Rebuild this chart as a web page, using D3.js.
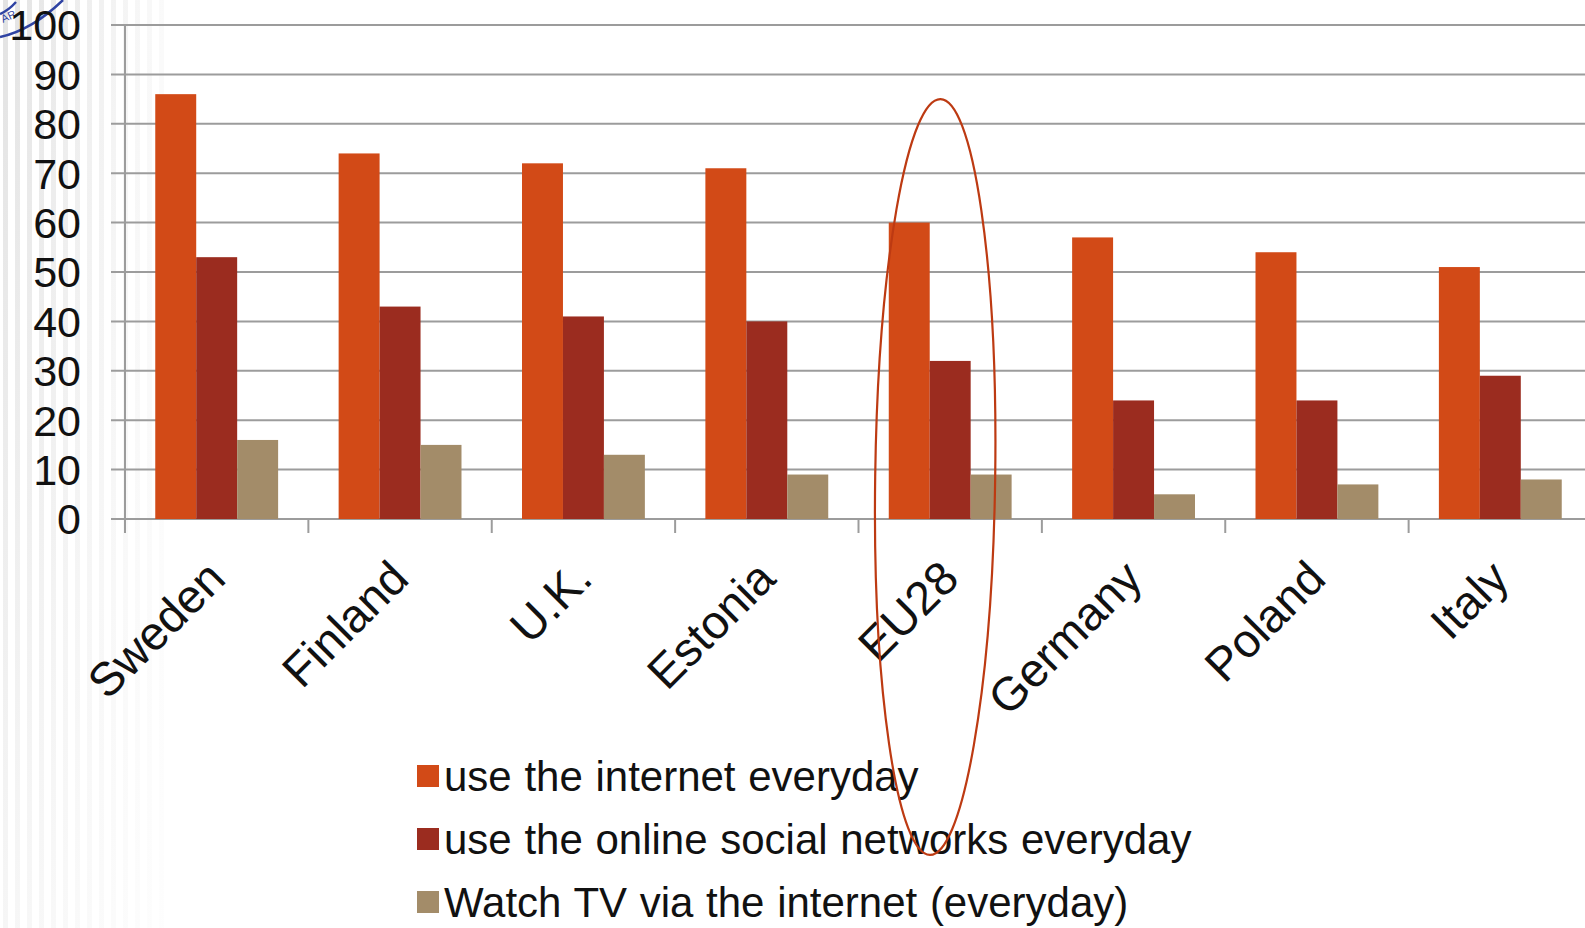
<!DOCTYPE html>
<html>
<head>
<meta charset="utf-8">
<script src="https://cdn.jsdelivr.net/npm/d3@7"></script>
<style>
  html, body { margin: 0; padding: 0; background: #fff; overflow: hidden; }
  svg { display: block; }
</style>
</head>
<body>
<svg id="chart" width="1585" height="928"></svg>
<script>
// Daily internet habits by country (%)
const categories = ["Sweden", "Finland", "U.K.", "Estonia", "EU28", "Germany", "Poland", "Italy"];
const internetDaily = [86, 74, 72, 71, 60, 57, 54, 51];
const socialDaily   = [53, 43, 41, 40, 32, 24, 24, 29];
const tvDaily       = [16, 15, 13, 9, 9, 5, 7, 8];
const seriesNames = [
  "use the internet everyday",
  "use the online social networks everyday",
  "Watch TV via the internet (everyday)"
];
const yTicks = [0, 10, 20, 30, 40, 50, 60, 70, 80, 90, 100];
const highlighted = "EU28";

const colors = ["#d24a17", "#9b2c1f", "#a38c69"];
const seriesValues = [internetDaily, socialDaily, tvDaily];

const svg = d3.select("#chart");
const W = 1585, H = 928;
const FONT = "Liberation Sans, Arial, sans-serif";

// slide background: faint vertical stripes on the left edge
const defs = svg.append("defs");
const grad = defs.append("linearGradient").attr("id", "stripeFade")
  .attr("x1", 0).attr("y1", 0).attr("x2", 0).attr("y2", 1);
grad.append("stop").attr("offset", "0%").attr("stop-color", "#e3e3e3");
grad.append("stop").attr("offset", "100%").attr("stop-color", "#f6f6f6");
const stripes = svg.append("g");
d3.range(14).forEach(i => {
  stripes.append("rect")
    .attr("x", 3 + i * 12).attr("y", 0)
    .attr("width", 5).attr("height", H)
    .attr("fill", "url(#stripeFade)")
    .attr("opacity", 1 - i / 16);
});

// corner emblem fragment
const logo = svg.append("g").attr("fill", "none").attr("stroke", "#2f43a3").attr("stroke-width", 2.5);
logo.append("path").attr("d", "M0,37 Q32,30 63,0");
logo.append("path").attr("d", "M0,14 Q9,10 16,2");
svg.append("text").attr("x", 3).attr("y", 23).attr("fill", "#2f43a3")
  .attr("font-family", FONT).attr("font-size", 11)
  .attr("transform", "rotate(-25,3,23)").text("AR");

// scales
const x0 = d3.scaleBand().domain(categories).range([125, 1592]).paddingInner(0.33).paddingOuter(0.165);
const x1 = d3.scaleBand().domain(d3.range(seriesNames.length)).range([0, x0.bandwidth()]).padding(0);
const y = d3.scaleLinear().domain([0, 100]).range([519, 25]);

// gridlines
svg.append("g").selectAll("line").data(yTicks).join("line")
  .attr("x1", 111).attr("x2", W)
  .attr("y1", d => y(d)).attr("y2", d => y(d))
  .attr("stroke", "#9c9c9c").attr("stroke-width", 2);

// y axis line
svg.append("line").attr("x1", 125).attr("x2", 125)
  .attr("y1", y(100)).attr("y2", y(0) + 14)
  .attr("stroke", "#9c9c9c").attr("stroke-width", 2);

// category boundary ticks
const step = x0.step();
const boundaries = d3.range(categories.length + 1).map(i => x0.range()[0] + i * step);
svg.append("g").selectAll("line").data(boundaries).join("line")
  .attr("x1", d => d).attr("x2", d => d)
  .attr("y1", y(0)).attr("y2", y(0) + 14)
  .attr("stroke", "#9c9c9c").attr("stroke-width", 2);

// y tick labels
svg.append("g").selectAll("text").data(yTicks).join("text")
  .attr("x", 81).attr("y", d => y(d)).attr("dy", "0.36em")
  .attr("text-anchor", "end")
  .attr("font-family", FONT)
  .attr("font-size", 43).attr("fill", "#111")
  .text(d => d);

// bars
const groups = svg.append("g").selectAll("g").data(categories).join("g")
  .attr("transform", d => `translate(${x0(d)},0)`);
groups.selectAll("rect")
  .data((c, ci) => seriesValues.map((vals, si) => ({ si, v: vals[ci] })))
  .join("rect")
  .attr("x", d => x1(d.si))
  .attr("width", x1.bandwidth())
  .attr("y", d => y(d.v))
  .attr("height", d => y(0) - y(d.v))
  .attr("fill", d => colors[d.si]);

// rotated category labels
svg.append("g").selectAll("text").data(categories).join("text")
  .attr("transform", d => `translate(${x0(d) + x0.bandwidth() / 2 + 11},581) rotate(-45)`)
  .attr("text-anchor", "end")
  .attr("font-family", FONT)
  .attr("font-size", 47).attr("fill", "#111")
  .text(d => d);

// legend
const legend = svg.append("g");
const rowY = [776, 839, 902];
seriesNames.forEach((name, i) => {
  legend.append("rect")
    .attr("x", 417).attr("y", rowY[i] - 11)
    .attr("width", 22).attr("height", 22)
    .attr("fill", colors[i]);
  legend.append("text")
    .attr("x", 444).attr("y", rowY[i])
    .attr("dy", "0.36em")
    .attr("font-family", FONT)
    .attr("font-size", 42).attr("fill", "#111")
    .attr("word-spacing", 1)
    .text(name);
});

// highlight ring around the EU28 group
const hc = x0(highlighted) + x0.bandwidth() / 2;
const ex = hc - 15, ey = 477;
svg.append("ellipse")
  .attr("cx", ex).attr("cy", ey)
  .attr("rx", 60).attr("ry", 378)
  .attr("transform", `rotate(0.8,${ex},${ey})`)
  .attr("fill", "none")
  .attr("stroke", "#bd3a12").attr("stroke-width", 2.2);
</script>
</body>
</html>
